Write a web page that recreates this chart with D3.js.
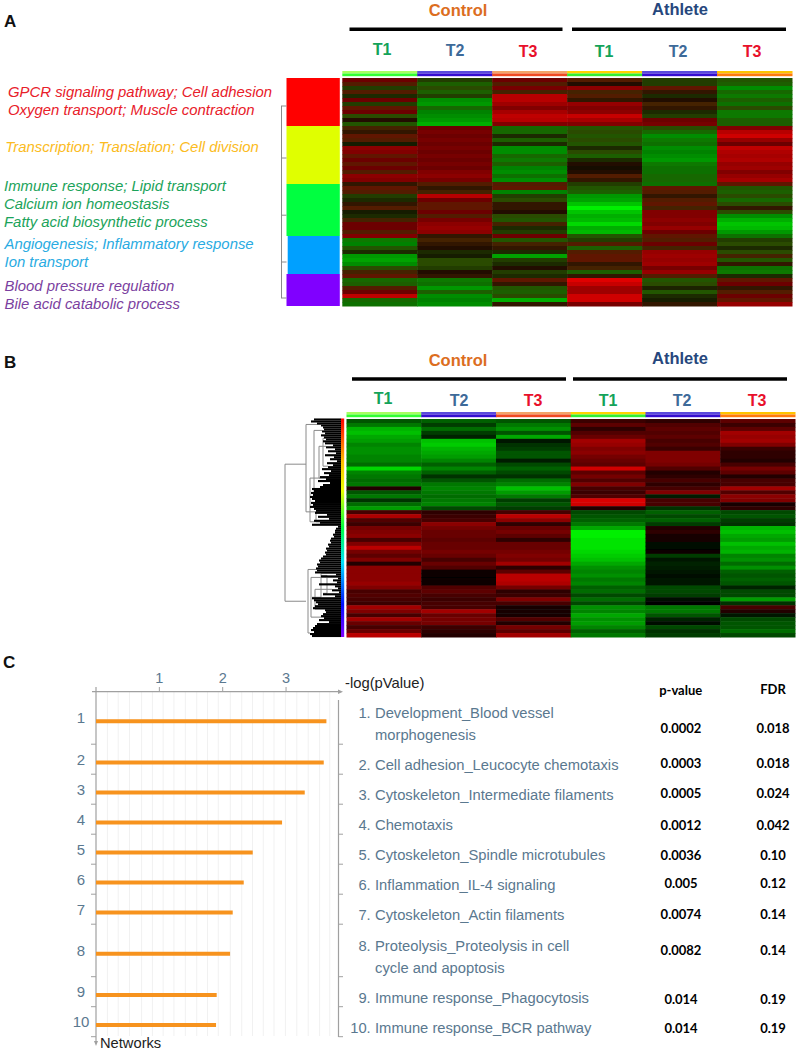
<!DOCTYPE html>
<html><head><meta charset="utf-8">
<script src="https://cdnjs.cloudflare.com/ajax/libs/d3/7.8.5/d3.min.js"></script>
<style>html,body{margin:0;padding:0;background:#fff}svg{display:block}text{font-family:"Liberation Sans",Arial,sans-serif}</style>
</head><body><svg id="c" width="799" height="1052"></svg>
<script>
// ---------- data ----------
const groups=["Control","Athlete"];
const times=["T1","T2","T3"];
const clusterTerms=[
 ["GPCR signaling pathway; Cell adhesion","Oxygen transport; Muscle contraction"],
 ["Transcription; Translation; Cell division"],
 ["Immune response; Lipid transport","Calcium ion homeostasis","Fatty acid biosynthetic process"],
 ["Angiogenesis; Inflammatory response","Ion transport"],
 ["Blood pressure regulation","Bile acid catabolic process"]];
const clusterRows=[12,14.5,13,9.5,8];

const aC1=[.3,.2,-.15,.2,-.1,.3,-.15,.25,.3,-.2,.05,-.25,.15,.1,.25,.2,-.05,.45,.4,.25,.3,.25,.3,.2,.45,.4,.1,.25,.2,-.15,-.1,.1,.2,-.05,-.1,.15,.3,.3,.2,.4,-.45,-.5,-.25,-.1,-.6,-.65,-.55,-.2,.15,.25,-.35,-.3,.2,.3,.75,-.35,-.4];
const aC2=[-.15,-.3,-.2,-.3,-.15,-.55,-.6,-.35,-.5,-.55,-.6,-.7,.3,.35,.3,.35,.3,.35,.3,.35,.3,.35,.3,.4,.45,.35,.2,.1,.15,.7,.3,.25,.25,.3,.2,.35,.45,.5,.45,.1,.15,.1,.05,-.1,-.05,-.2,-.2,-.15,.05,.1,-.45,-.4,-.6,-.3,-.55,-.5,-.55];
const aC3=[.3,.2,.35,.15,.7,.7,.55,.4,.6,.75,.7,.4,-.35,-.35,-.1,-.3,-.1,-.55,-.55,-.35,-.45,-.3,-.5,-.55,-.4,-.55,.2,.25,-.5,-.15,-.2,.1,.1,.05,-.2,-.25,.15,-.1,-.15,.3,-.25,.15,.1,-.1,-.65,-.15,-.1,.05,-.15,-.1,.25,.1,-.25,-.3,-.2,-.7,.1];
const aC4=[.2,.05,.45,.15,.2,.1,.5,.4,.45,.8,.6,.4,-.25,-.2,-.25,-.2,-.25,-.1,-.2,-.3,-.1,.05,.02,.05,.2,.1,-.15,-.25,-.3,-.6,-.65,-.8,-1,-.8,-.7,-.75,-.9,-.7,-.75,-.25,-.15,.2,-.3,.2,.25,.25,.1,.15,-.3,.1,.95,.8,.55,.55,.85,.85,.35];
const aC5=[-.15,-.15,.25,.1,-.1,.05,.15,.1,-.1,-.15,.3,.35,-.2,-.35,-.55,-.45,-.4,-.55,-.5,-.55,-.6,-.45,-.4,-.4,-.35,-.35,-.4,.25,.2,.1,.2,.25,.15,.4,.4,.45,.4,.5,.3,.25,.2,.3,.15,.5,.55,.5,.55,.35,.5,.2,-.25,-.2,-.08,-.25,-.1,-.05,.1];
const aC6=[-.25,-.3,-.55,-.35,-.45,-.3,-.4,-.2,-.45,-.45,-.3,-.3,.4,.7,.85,.5,.3,.75,.65,.6,.65,.5,.55,.4,.5,.6,.25,-.25,-.3,-.2,-.35,-.2,.1,-.2,-.55,-.7,-.8,-.75,-.6,-.4,-.15,-.2,-.1,-.2,.15,-.25,.1,-.4,-.45,-.1,.25,.3,.1,.2,.3,.25,.5];

const bC1=[-.35,-.5,-.75,-.8,-.7,-.65,-.55,-.6,-.6,-.55,-.55,-.45,-.9,-.55,-.5,-.45,-.5,.15,-.35,-.5,-.2,-.45,-.65,.3,.75,.35,.25,.5,.55,.6,.3,.55,.8,.5,.4,.55,.15,.6,.6,.6,.6,.65,.55,.3,.35,.3,.25,.7,.55,.3,.7,.45,.3,.45,.8];
const bC2=[-.4,-.25,-.45,-.25,-.15,-.8,-.85,-.75,-.7,-.65,-.55,-.4,-.55,-.4,-.2,-.35,-.5,-.55,-.5,-.45,-.5,-.55,-.3,.2,.25,.3,.6,.5,.45,.45,.4,.45,.45,.5,.45,.3,.45,.35,.05,.03,.03,.05,.35,.4,.3,.25,.3,.3,.7,.45,.5,.5,.25,.2,.15];
const bC3=[-.35,-.5,-.6,-.35,-.7,-.08,-.2,-.25,-.35,-.35,-.12,-.3,-.4,-.3,-.2,-.45,-.55,-.8,-.65,-.5,-.25,-.35,-.25,.3,.8,.6,.2,.45,.5,.4,.2,.45,.45,.5,.55,.5,.7,.2,.4,.8,.8,.75,.5,.2,.25,.55,.3,.08,.08,.08,.35,.15,.5,.4,.7];
const bC4=[.25,.4,.2,.35,.45,.7,.65,.55,.6,.5,.45,.4,.9,.4,.5,.35,.55,.3,.25,.35,.95,.9,.15,-.3,-.35,-.4,-.5,-.7,-1,-1,-.95,-.95,-.95,-.9,-.85,-.8,-.7,-.6,-.55,-.6,-.5,-.55,-.4,-.45,-.3,-.45,-.3,-.6,-.55,-.7,-.6,-.65,-.55,-.4,-.5];
const bC5=[.2,.35,.4,.35,.4,.3,.35,.25,.55,.55,.55,.5,.35,.15,.2,.3,.2,.3,.55,-.12,.3,.3,-.2,-.4,-.3,-.4,-.25,.15,.2,.1,.1,-.05,-.03,.05,-.25,-.1,-.15,-.12,-.1,-.05,-.1,-.1,-.3,-.3,-.25,-.03,-.02,-.5,-.5,-.35,-.15,-.03,-.3,-.2,-.25];
const bC6=[.4,.25,.4,.7,.65,.7,.55,.25,.2,.2,.15,.3,.5,.4,.15,.3,.3,.7,.35,.6,.55,.1,.2,-.3,-.35,-.25,-.2,-.75,-.8,-.7,-.65,-.8,-.7,-.75,-.55,-.6,-.45,-.6,-.4,-.35,-.4,-.35,-.15,-.3,-.3,-.65,-.2,.3,.15,-.1,-.3,-.35,-.35,-.45,-.3];

// dendrogram of panel B: leaf length per leaf row, and brackets [height, firstRow, lastRow]
const leafHeights=[27,30,24,20,18,17,19,16,20,17,15,18,16,8,15,6,13,5,16,7,11,4,14,8,13,19,10,17,12,21,15,23,11,18,21,29,27,30,28,31,29,26,30,28,31,27,25,26,14,23,12,27,21,29,3,5,6,6,8,7,10,11,10,13,12,15,14,16,15,18,20,22,21,24,23,25,24,26,5,20,3,8,4,22,6,3,9,2,18,6,29,27,25,23,26,28,16,15,18,20,17,22,12,24,26,28,30,27,31,29];
const brackets=[[56,23,92],[35,3,47],[33,76,108],[31,30,52],[27,6,38],[25,47,52],[22,14,30],[18,10,24],[30,80,100],[26,86,96],[20,78,90],[14,79,88]];
// dendrogram of panel A: cluster links in row units
const clusterLinks=[7,20,34.3,46,55];

const networks=[1,2,3,4,5,6,7,8,9,10];
const networkNames=[["Development_Blood vessel","morphogenesis"],["Cell adhesion_Leucocyte chemotaxis"],["Cytoskeleton_Intermediate filaments"],["Chemotaxis"],["Cytoskeleton_Spindle microtubules"],["Inflammation_IL-4 signaling"],["Cytoskeleton_Actin filaments"],["Proteolysis_Proteolysis in cell","cycle and apoptosis"],["Immune response_Phagocytosis"],["Immune response_BCR pathway"]];
const logP=[3.637,3.595,3.295,2.937,2.474,2.332,2.158,2.116,1.905,1.895];
const pValues=["0.0002","0.0003","0.0005","0.0012","0.0036","0.005","0.0074","0.0082","0.014","0.014"];
const fdrValues=["0.018","0.018","0.024","0.042","0.10","0.12","0.14","0.14","0.19","0.19"];
const rowWeights=[1.75,1,1,1,1,1,1,1.75,1,1];
const axisTicks=[1,2,3];
const gridTicks=[.18,.35,.53,.72,.89,1.06,1.23,1.41,1.59,1.76,1.93,2.12,2.3,2.47,2.64,2.81,2.99,3.17,3.35,3.53,3.69];

// ---------- styles ----------
const GROUP_COL=["#dc6e1e","#26477d"], TIME_COL=["#14a35a","#3d6a99","#e8102a"];
const STRIP_TOP=["#a8ff60","#5a48dc","#f4a468","#ffd400","#5a48dc","#ffc400"];
const STRIP_BOT=["#33ff33","#3510d0","#f04a20","#33f033","#3510d0","#ff7a10"];
const CLUSTER_COL=["#ff0000","#e0ff00","#00ff40","#00a0ff","#8000ff"];
const TERM_COL=["#e8202a","#fbbb22","#1ba35a","#29abe2","#7b3fa0"];
const heatA=d3.scaleLinear().domain([-1,-.5,-.2,0,.18,.3,.5,1]).range(["#00f000","#008200","#2a4c00","#120a00","#4e2400","#6c0600","#960000","#e80000"]);
const heatB=d3.scaleLinear().domain([-1,0,1]).range(["#00f000","#000000","#e80000"]);
const BLUE="#5a788f";

const svg=d3.select("#c");
const defs=svg.append("defs");
defs.append("filter").attr("id","soft").attr("x","-2%").attr("y","-2%").attr("width","104%").attr("height","104%")
  .append("feGaussianBlur").attr("stdDeviation","0.4 0.65");
const rb=defs.append("linearGradient").attr("id","rainbow").attr("x1",0).attr("x2",0).attr("y1",0).attr("y2",1);
[["0","#ff0000"],[".2","#ffc000"],[".33","#e8ff00"],[".5","#00ff40"],[".66","#00e0ff"],[".85","#0010ff"],["1","#8000ff"]]
  .forEach(d=>rb.append("stop").attr("offset",d[0]).attr("stop-color",d[1]));

function letter(t,x,y){svg.append("text").attr("x",x).attr("y",y).attr("font-size",17).attr("font-weight","bold").attr("fill","#111").text(t);}

function header(o){
  groups.forEach((g,i)=>{
    svg.append("text").attr("x",o.gx[i]).attr("y",o.gy[i]).attr("text-anchor","middle").attr("font-size",16.5).attr("font-weight","bold").attr("fill",GROUP_COL[i]).text(g);
    svg.append("line").attr("x1",o.line[i][0]).attr("x2",o.line[i][1]).attr("y1",o.ly).attr("y2",o.ly).attr("stroke","#000").attr("stroke-width",3.4);
  });
  o.tx.forEach((x,i)=>{
    svg.append("text").attr("x",x).attr("y",o.ty[i]).attr("text-anchor","middle").attr("font-size",16).attr("font-weight","bold").attr("fill",TIME_COL[i%3]).text(times[i%3]);
  });
}

function heatmap(cols,scale,x0,x1,y0,y1){
  const x=d3.scaleBand().domain(d3.range(6)).range([x0,x1]);
  const y=d3.scaleBand().domain(d3.range(cols[0].length)).range([y0,y1]);
  const g=svg.append("g").attr("filter","url(#soft)");
  cols.forEach((c,i)=>{
    g.selectAll(null).data(c).join("rect").attr("x",x(i)).attr("width",x.bandwidth()+.5)
      .attr("y",(d,r)=>y(r)).attr("height",y.bandwidth()+.5).attr("fill",d=>scale(d));
  });
  const s=svg.append("g").attr("filter","url(#soft)");
  d3.range(6).forEach(i=>{
    s.append("rect").attr("x",x(i)).attr("width",x.bandwidth()+.5).attr("y",y0-7).attr("height",2.5).attr("fill",STRIP_TOP[i]);
    s.append("rect").attr("x",x(i)).attr("width",x.bandwidth()+.5).attr("y",y0-4.5).attr("height",2.7).attr("fill",STRIP_BOT[i]);
  });
  return y;
}

// ---------- panel A ----------
letter("A",4,27);
header({gx:[458,680],gy:[16,15],line:[[349.5,562.5],[572,786]],ly:29.3,tx:[382,455,528,604,678,752],ty:[55,55.5,57,57,57,57]});
heatmap([aC1,aC2,aC3,aC4,aC5,aC6],heatA,342.3,792,78,306);
const aRow=d3.scaleLinear().domain([0,57]).range([78,306]);
let cum=0;
clusterRows.forEach((n,i)=>{
  svg.append("rect").attr("x",i==3?287.7:286.5).attr("width",i==3?52:53.3).attr("y",aRow(cum)).attr("height",aRow(cum+n)-aRow(cum)).attr("fill",CLUSTER_COL[i]);
  cum+=n;
});
const aTree=svg.append("g").attr("stroke","#8a8a8a").attr("fill","none");
aTree.append("line").attr("x1",281.5).attr("x2",281.5).attr("y1",aRow(clusterLinks[0])).attr("y2",aRow(clusterLinks[4]));
clusterLinks.forEach(r=>{
  aTree.append("line").attr("x1",281).attr("x2",286.5).attr("y1",aRow(r)).attr("y2",aRow(r));
});
const termBase=[[97,115],[152],[191,209,227],[249,267],[291,309]];
const termX=[8,5.3,4,4.5,4.5];
clusterTerms.forEach((lines,i)=>lines.forEach((t,j)=>{
  svg.append("text").attr("x",termX[i]).attr("y",termBase[i][j]).attr("font-size",14.9).attr("font-style","italic").attr("fill",TERM_COL[i]).text(t);
}));

// ---------- panel B ----------
letter("B",4,368);
header({gx:[458,680],gy:[366,364],line:[[352,566],[573,787]],ly:379,tx:[383,459,533,608,682,757],ty:[404,406,406,406,406,406]});
heatmap([bC1,bC2,bC3,bC4,bC5,bC6],heatB,346.5,795,419,637);
const leafY=d3.scaleLinear().domain([0,leafHeights.length]).range([418.5,637]);
const depthX=d3.scaleLinear().domain([0,60]).range([341,281]);
const bTree=svg.append("g").attr("stroke","#8a8a8a").attr("fill","none");
brackets.forEach(b=>{
  const [h,r0,r1]=b;
  bTree.append("line").attr("x1",depthX(h)).attr("x2",depthX(h)).attr("y1",leafY(r0)).attr("y2",leafY(r1));
  [r0,r1].forEach(r=>{
    const to=h==56?35:Math.max(0,leafHeights[Math.min(r,109)]);
    bTree.append("line").attr("x1",depthX(h)).attr("x2",depthX(to)).attr("y1",leafY(r)).attr("y2",leafY(r));
  });
});
svg.append("g").attr("stroke","#000").attr("stroke-width",2.1).selectAll("line").data(leafHeights).join("line")
  .attr("x1",d=>depthX(d)).attr("x2",depthX(0)).attr("y1",(d,i)=>leafY(i+.5)).attr("y2",(d,i)=>leafY(i+.5));
svg.append("rect").attr("x",341).attr("width",3.2).attr("y",418.5).attr("height",218.5).attr("fill","url(#rainbow)");

// ---------- panel C ----------
letter("C",3,668);
const xC=d3.scaleLinear().domain([0,1]).range([96,159.35]);
const cumW=[0];rowWeights.forEach(w=>cumW.push(cumW[cumW.length-1]+w));
const yC=d3.scaleLinear().domain([0,cumW[cumW.length-1]]).range([691.7,1036.7]);
const band=i=>(yC(cumW[i])+yC(cumW[i+1]))/2;
const AX="#a0a0a0";
svg.append("g").attr("stroke","#f1f1f1").selectAll("line").data(gridTicks).join("line")
  .attr("x1",d=>xC(d)).attr("x2",d=>xC(d)).attr("y1",692).attr("y2",1036);
svg.append("line").attr("x1",92).attr("x2",341).attr("y1",691.7).attr("y2",691.7).attr("stroke",AX).attr("stroke-width",1.2);
svg.append("path").attr("d","M338,689.5L343,691.7L338,694Z").attr("fill",AX);
svg.append("line").attr("x1",96).attr("x2",96).attr("y1",687).attr("y2",1042).attr("stroke",AX).attr("stroke-width",1.2);
svg.append("path").attr("d","M94,1041L96,1046L98,1041Z").attr("fill",AX);
svg.append("line").attr("x1",338.5).attr("x2",338.5).attr("y1",700).attr("y2",1037).attr("stroke",AX).attr("stroke-width",1.2);
axisTicks.forEach(t=>{
  svg.append("line").attr("x1",xC(t)).attr("x2",xC(t)).attr("y1",687).attr("y2",692).attr("stroke",AX);
  svg.append("text").attr("x",xC(t)).attr("y",682.5).attr("text-anchor","middle").attr("font-size",14.5).attr("fill",BLUE).text(t);
});
networks.forEach((n,i)=>{
  const by=yC(cumW[i+1]);
  svg.append("line").attr("x1",91).attr("x2",96).attr("y1",by).attr("y2",by).attr("stroke",AX);
  svg.append("line").attr("x1",338.5).attr("x2",343).attr("y1",by).attr("y2",by).attr("stroke",AX);
  svg.append("text").attr("x",81).attr("y",band(i)+5.3).attr("text-anchor","middle").attr("font-size",15).attr("fill",BLUE).text(n);
  svg.append("rect").attr("x",xC(0)).attr("width",xC(logP[i])-xC(0)).attr("y",band(i)+1.3).attr("height",4).attr("fill","#f7931e");
});
svg.append("text").attr("x",345).attr("y",688).attr("font-size",14.8).attr("fill","#222").text("-log(pValue)");
svg.append("text").attr("x",100).attr("y",1047.7).attr("font-size",14.7).attr("fill","#222").text("Networks");
const nameBase=[[718.3,740],[770],[800],[830],[860],[890],[920],[950.7,972.7],[1002.7],[1032.7]];
networkNames.forEach((lines,i)=>{
  svg.append("text").attr("x",370.7).attr("y",nameBase[i][0]).attr("text-anchor","end").attr("font-size",14.75).attr("fill",BLUE).text((i+1)+".");
  lines.forEach((t,j)=>svg.append("text").attr("x",375).attr("y",nameBase[i][j]).attr("font-size",14.75).attr("fill",BLUE).text(t));
});
const tableBase=[733.3,768.3,797.7,830,860,887.7,919,955,1004,1033];
const tbl=(t,x,y)=>svg.append("text").attr("x",x).attr("y",y).attr("text-anchor","middle").attr("font-size",13).attr("font-weight","bold").attr("fill","#000").style("font-family","Lato,'Open Sans',sans-serif").text(t);
tbl("p-value",680.7,695);tbl("FDR",773,694);
pValues.forEach((p,i)=>{tbl(p,681,tableBase[i]);tbl(fdrValues[i],773,tableBase[i]);});
</script></body></html>
